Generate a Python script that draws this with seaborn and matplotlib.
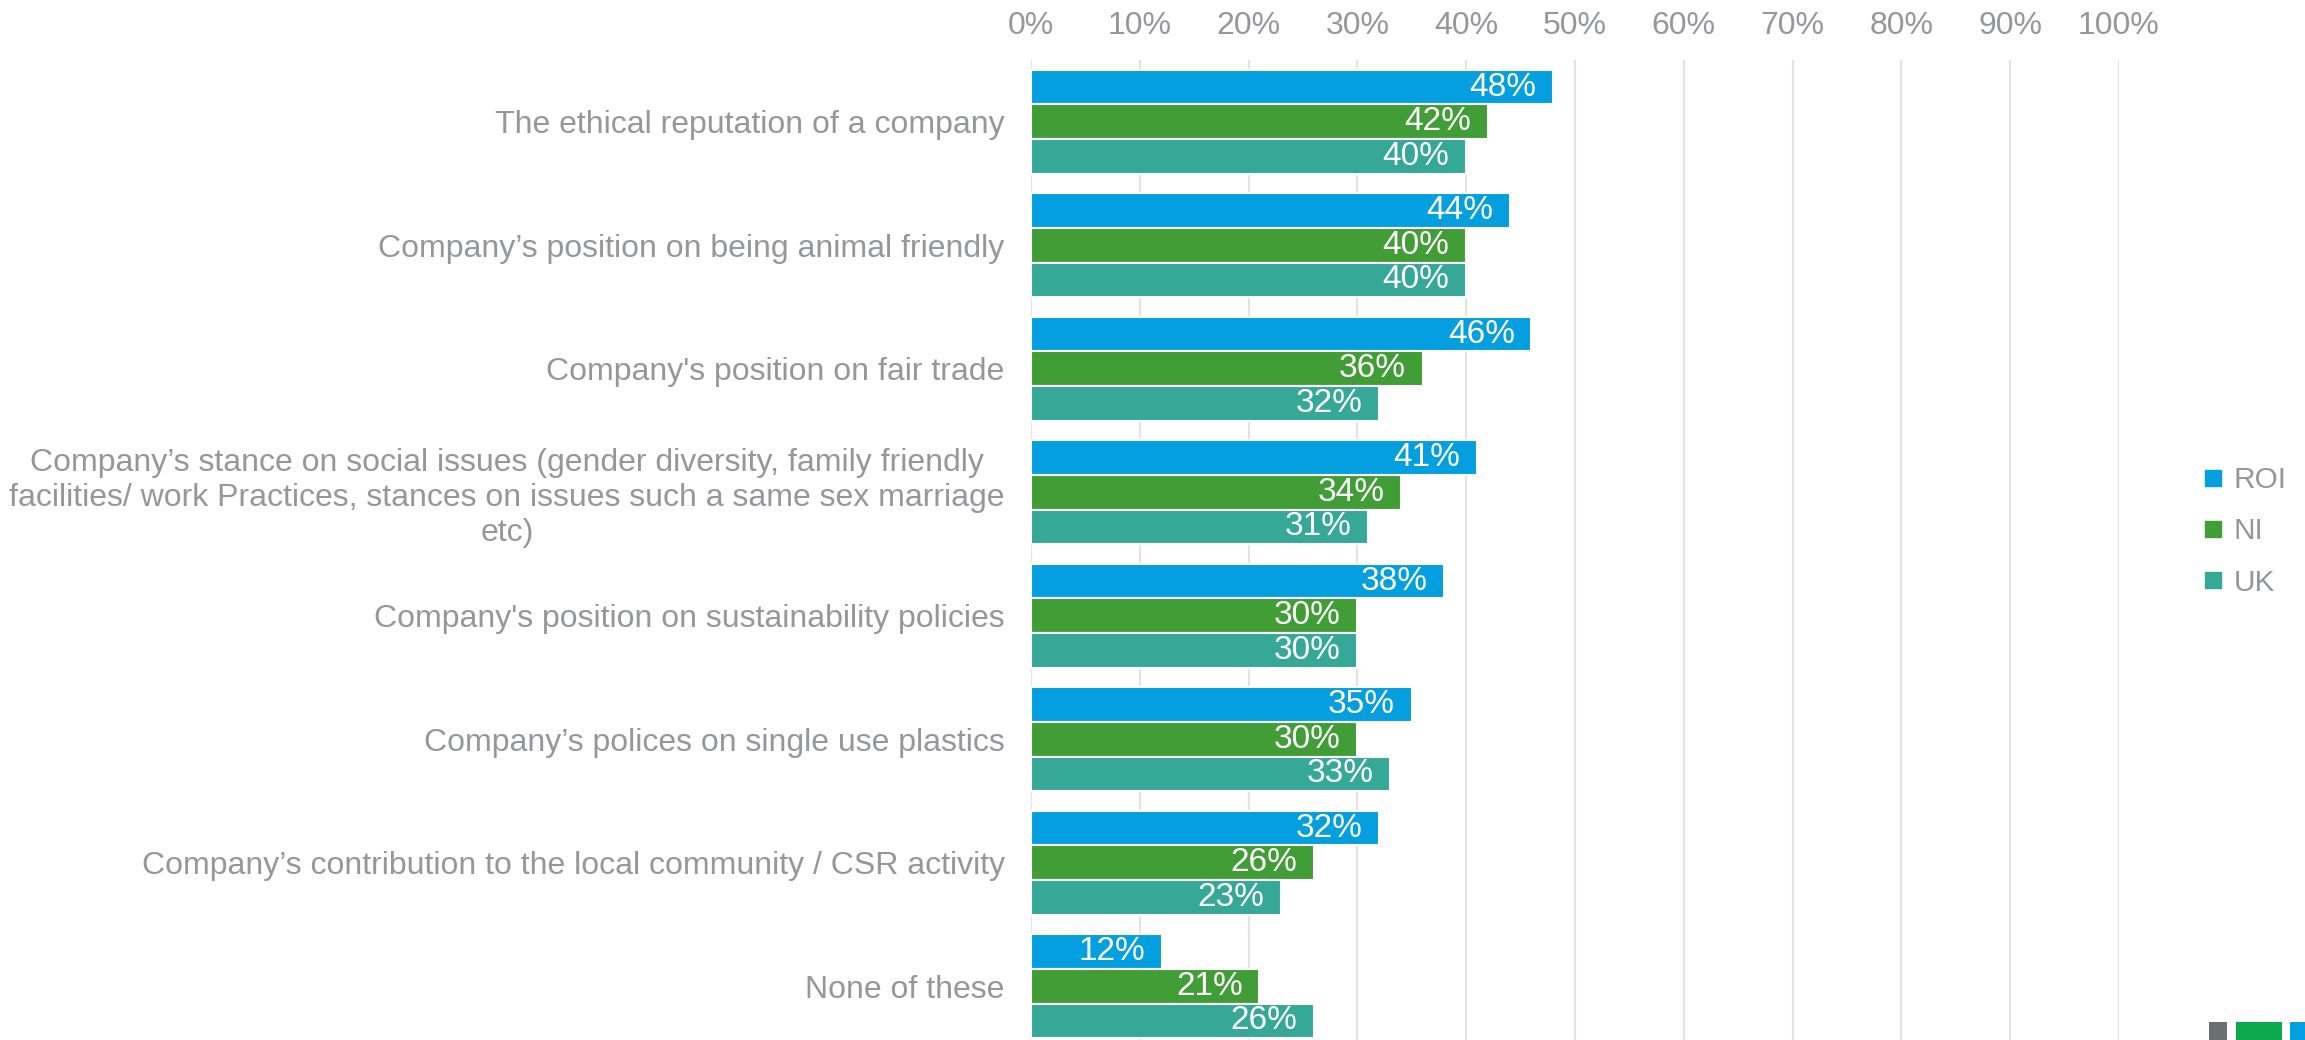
import matplotlib
matplotlib.use("Agg")
import matplotlib.pyplot as plt
from matplotlib.lines import Line2D
from matplotlib.patches import Rectangle
import pandas as pd
import seaborn as sns

# Survey items (top to bottom) and share of respondents per region, in %
items = [
    "The ethical reputation of a company",
    "Company\u2019s position on being animal friendly",
    "Company's position on fair trade",
    "Company\u2019s stance on social issues (gender diversity, family friendly\n"
    "facilities/ work Practices, stances on issues such a same sex marriage\netc)",
    "Company's position on sustainability policies",
    "Company\u2019s polices on single use plastics",
    "Company\u2019s contribution to the local community / CSR activity",
    "None of these",
]
regions = ["ROI", "NI", "UK"]
roi = [48, 44, 46, 41, 38, 35, 32, 12]
ni = [42, 40, 36, 34, 30, 30, 26, 21]
uk = [40, 40, 32, 31, 30, 33, 23, 26]
x_ticks = [0, 10, 20, 30, 40, 50, 60, 70, 80, 90, 100]

colors = {"ROI": "#039FDF", "NI": "#419D35", "UK": "#35A898"}
text_gray = "#96979B"

rows = []
for region, vals in zip(regions, [roi, ni, uk]):
    for item, v in zip(items, vals):
        rows.append({"Item": item, "Region": region, "Value": v})
df = pd.DataFrame(rows)

sns.set_theme(style="white")
plt.rcParams["font.family"] = ["Liberation Sans", "DejaVu Sans"]

fig = plt.figure(figsize=(23.05, 10.4), dpi=100)
ax = fig.add_axes([0.4473, -0.0077, 0.4720, 0.9500])

sns.barplot(
    data=df, y="Item", x="Value", hue="Region", order=items,
    hue_order=regions, palette=colors, saturation=1, orient="h", width=0.84,
    edgecolor="white", linewidth=1.5, legend=False, ax=ax,
)

# value labels, right-aligned just inside the end of each bar
for container, region in zip(ax.containers, regions):
    for bar in container:
        w = bar.get_width()
        y = bar.get_y() + bar.get_height() / 2
        ax.annotate(f"{w:.0f}%", xy=(w, y), xytext=(-12, 0),
                    textcoords="offset points", ha="right", va="center",
                    color="white", fontsize=24)

ax.set_xlim(0, 100)
ax.set_ylim(len(items) - 0.5, -0.5)
ax.set_xticks(x_ticks)
ax.set_xticklabels([f"{t}%" for t in x_ticks])
ax.xaxis.tick_top()
ax.tick_params(axis="x", length=0, pad=14, labelsize=23, labelcolor=text_gray)
ax.tick_params(axis="y", length=0, pad=19, labelsize=23, labelcolor=text_gray)
for lbl in ax.get_yticklabels():
    lbl.set_multialignment("center")
ax.set_xlabel("")
ax.set_ylabel("")
ax.grid(axis="x", color="#E3E3E3", linewidth=1.5)
ax.set_axisbelow(True)
for s in ax.spines.values():
    s.set_visible(False)

handles = [Line2D([], [], marker="s", linestyle="", markersize=12,
                  markerfacecolor=colors[r], markeredgecolor=colors[r])
           for r in regions]
fig.legend(handles, regions, loc="center left",
           bbox_to_anchor=(0.951, 0.489), frameon=False, fontsize=21.5,
           labelcolor=text_gray, handlelength=0.6, handletextpad=0.4,
           labelspacing=0.78, borderaxespad=0)

# small brand squares along the bottom-right edge
W, H = 2305, 1040
for x0, x1, c in [(2209, 2227, "#6D6E71"), (2236, 2282, "#0DA84B"),
                  (2290, 2305, "#039FDF")]:
    fig.add_artist(Rectangle((x0 / W, 0), (x1 - x0) / W, 18 / H,
                             transform=fig.transFigure, color=c, lw=0))

fig.savefig("out.png", dpi=100)
